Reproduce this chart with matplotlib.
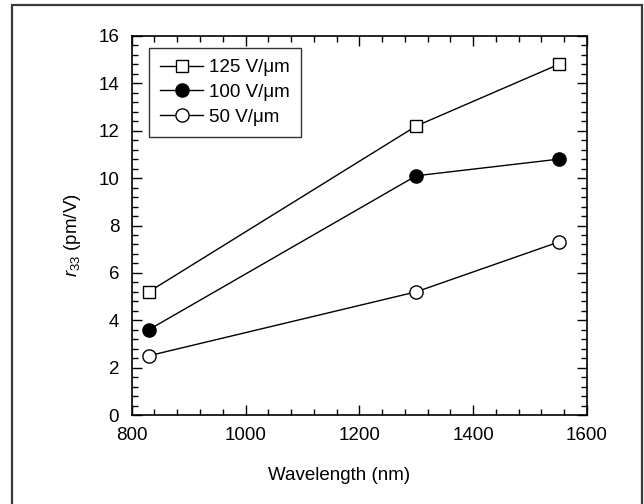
import matplotlib
matplotlib.use("Agg")
import matplotlib.pyplot as plt
from matplotlib.ticker import MultipleLocator
from matplotlib.patches import Rectangle

plt.rcParams['font.family'] = ['Liberation Sans', 'DejaVu Sans']
plt.rcParams['mathtext.fontset'] = 'custom'
plt.rcParams['mathtext.rm'] = 'Liberation Sans'
plt.rcParams['mathtext.it'] = 'Liberation Sans:italic'

wavelength = [830, 1300, 1550]
r33_125 = [5.2, 12.2, 14.8]
r33_100 = [3.6, 10.1, 10.8]
r33_50 = [2.5, 5.2, 7.3]
labels = ['125 V/\u03bcm', '100 V/\u03bcm', '50 V/\u03bcm']

W, H = 644, 504
fig = plt.figure(figsize=(W/100, H/100), dpi=100)
ax = fig.add_axes([131.7/W, 1-415/H, (587-131.7)/W, (415-36)/H])

# outer frame
fig.patches.append(Rectangle((12/W, -0.01), (641.5-12)/W, 1.01-5/H, transform=fig.transFigure,
                             fill=False, edgecolor='#3a3a3a', linewidth=1.6))

fs = 13.5
lw = 1.0
ax.plot(wavelength, r33_125, '-', color='black', lw=lw, marker='s', ms=8,
        mfc='white', mec='black', mew=1.0, label=labels[0])
ax.plot(wavelength, r33_100, '-', color='black', lw=lw, marker='o', ms=9.5,
        mfc='black', mec='black', mew=1.0, label=labels[1])
ax.plot(wavelength, r33_50, '-', color='black', lw=lw, marker='o', ms=9.5,
        mfc='white', mec='black', mew=1.0, label=labels[2])

ax.set_xlim(800, 1600)
ax.set_ylim(0, 16)
ax.xaxis.set_major_locator(MultipleLocator(200))
ax.xaxis.set_minor_locator(MultipleLocator(40))
ax.yaxis.set_major_locator(MultipleLocator(2))
ax.yaxis.set_minor_locator(MultipleLocator(0.4))
ax.tick_params(which='both', direction='in', top=True, right=True, width=1.0, labelsize=fs)
ax.tick_params(which='major', length=7, pad=9)
ax.tick_params(which='minor', length=4)
for s in ax.spines.values():
    s.set_linewidth(1.2)

ax.set_xlabel('Wavelength (nm)', fontsize=fs)
ax.set_ylabel('$r_{33}$ (pm/V)', fontsize=fs)
ax.xaxis.set_label_coords((339-131.7)/(587-131.7), (415-467)/(415-36))
ax.yaxis.set_label_coords((83-131.7)/(587-131.7), (415-235)/(415-36))

leg = ax.legend(loc='upper left', bbox_to_anchor=((149-131.7)/(587-131.7), 1-(48-36)/(415-36)),
                fontsize=fs, frameon=True, fancybox=False, edgecolor='black',
                handlelength=2.3, handletextpad=0.3, borderaxespad=0, labelspacing=0.4,
                borderpad=0.6)
leg.get_frame().set_linewidth(1.0)

fig.savefig('out.png', dpi=100)
